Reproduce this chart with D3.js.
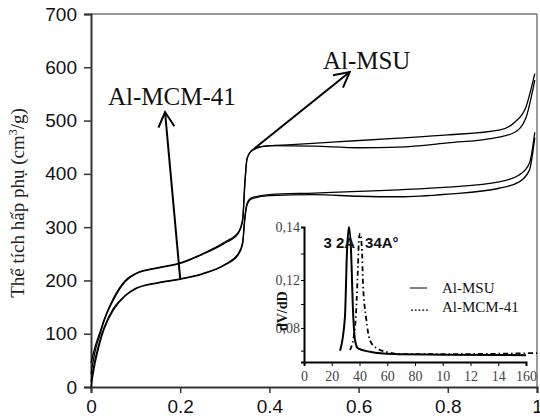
<!DOCTYPE html>
<html>
<head>
<meta charset="utf-8">
<script src="https://cdn.jsdelivr.net/npm/d3@7"></script>
<style>
  body { margin: 0; background: #fff; }
</style>
</head>
<body>
<div id="chart"></div>
<script>
// ─── Main isotherm data (P/Po, volume cm3/g) ───
const xTicks = [0, 0.2, 0.4, 0.6, 0.8, 1];
const yTicks = [0, 100, 200, 300, 400, 500, 600, 700];

const msuA = [[0, 45], [0.01, 78], [0.02, 103], [0.03, 128], [0.05, 166], [0.077, 200], [0.1, 213],
  [0.15, 224], [0.2, 233], [0.25, 250], [0.3, 272], [0.33, 290], [0.34, 315], [0.345, 385],
  [0.35, 430], [0.36, 444], [0.38, 451], [0.45, 455], [0.55, 460], [0.69, 467], [0.8, 473],
  [0.915, 482], [0.95, 497], [0.975, 525], [0.995, 588]];
const msuB = [[0, 25], [0.01, 70], [0.02, 98], [0.03, 125], [0.05, 163], [0.077, 198], [0.1, 212],
  [0.15, 223], [0.2, 232], [0.25, 249], [0.3, 270], [0.33, 288], [0.34, 312], [0.345, 380],
  [0.35, 428], [0.36, 443], [0.4, 453], [0.5, 452], [0.6, 449], [0.69, 450], [0.8, 458],
  [0.915, 469], [0.95, 478], [0.975, 505], [0.995, 576]];
const mcmA = [[0, 10], [0.01, 55], [0.02, 88], [0.03, 113], [0.05, 147], [0.077, 172], [0.1, 185],
  [0.15, 196], [0.2, 203], [0.25, 213], [0.3, 230], [0.33, 250], [0.34, 272], [0.345, 320],
  [0.35, 345], [0.36, 355], [0.4, 361], [0.5, 364], [0.6, 367], [0.69, 370], [0.8, 375],
  [0.915, 385], [0.96, 398], [0.983, 420], [0.995, 478]];
const mcmB = [[0, 0], [0.01, 48], [0.02, 83], [0.03, 110], [0.05, 144], [0.077, 171], [0.1, 184],
  [0.15, 195], [0.2, 202], [0.25, 212], [0.3, 229], [0.33, 248], [0.34, 268], [0.345, 315],
  [0.35, 342], [0.36, 353], [0.4, 359], [0.5, 361], [0.6, 358], [0.69, 357], [0.8, 362],
  [0.915, 373], [0.96, 385], [0.983, 407], [0.995, 468]];

// ─── Inset: pore size distribution (A, dV/dD) ───
const insetXTicks = [0, 20, 40, 60, 80, 100, 120, 140, 160];
const insetXLabels = ['0', '20', '40', '60', '80', '10', '12', '14', '160'];
const insetYTicks = [0.06, 0.08, 0.10, 0.12, 0.13, 0.14];
const insetYLabels = [0.08, 0.12, 0.14];

const poreMSU = [[26, 0.060], [29.5, 0.089], [31, 0.131], [32.4, 0.14], [33.9, 0.131], [35.3, 0.095],
  [36.8, 0.069], [38.9, 0.062], [47.6, 0.059], [64, 0.057], [100, 0.0565], [160, 0.056]];
const poreMCM = [[33.2, 0.0606], [36.8, 0.081], [38.9, 0.125], [39.6, 0.1356], [40.4, 0.1375],
  [41.8, 0.131], [42.5, 0.1175], [44.7, 0.089], [47.6, 0.069], [52.6, 0.062], [59.8, 0.0588],
  [69, 0.057], [112, 0.057], [168, 0.0579]];

const W = 540, H = 417;
const sans = "'Liberation Sans', Arial, sans-serif";
const serif = "'Liberation Serif', 'Times New Roman', serif";

const svg = d3.select('#chart').append('svg')
  .attr('width', W).attr('height', H);

const x = d3.scaleLinear().domain([0, 1]).range([91, 537]);
const y = d3.scaleLinear().domain([0, 700]).range([387, 14]);

// arrowhead
svg.append('defs').append('marker')
  .attr('id', 'arr')
  .attr('viewBox', '-18 -10 20 20')
  .attr('refX', 0).attr('refY', 0)
  .attr('markerWidth', 20).attr('markerHeight', 20)
  .attr('markerUnits', 'userSpaceOnUse')
  .attr('orient', 'auto')
  .append('path')
  .attr('d', 'M-15,-8L0,0L-15,8')
  .attr('fill', 'none')
  .attr('stroke', '#000')
  .attr('stroke-width', 2);

// ─── Frame (top / right) ───
svg.append('line').attr('x1', x(0)).attr('x2', x(1)).attr('y1', y(700)).attr('y2', y(700))
  .attr('stroke', '#777').attr('stroke-width', 1.5);
svg.append('line').attr('x1', x(1)).attr('x2', x(1)).attr('y1', y(700)).attr('y2', y(0))
  .attr('stroke', '#777').attr('stroke-width', 1.5);

// ─── Axes ───
const gy = svg.append('g').attr('transform', `translate(${x(0)},0)`)
  .call(d3.axisLeft(y).tickValues(yTicks).tickSize(7).tickPadding(7).tickFormat(d => String(d)));
const gx = svg.append('g').attr('transform', `translate(0,${y(0)})`)
  .call(d3.axisBottom(x).tickValues(xTicks).tickSize(6).tickPadding(7).tickFormat(d => String(d)));
[gx, gy].forEach(g => {
  g.select('.domain').attr('stroke', '#333').attr('stroke-width', 2);
  g.selectAll('.tick line').attr('stroke', '#333').attr('stroke-width', 1.5);
  g.selectAll('text').attr('font-family', sans).attr('font-size', '19px').attr('fill', '#111');
});

// y title
const yt = svg.append('text')
  .attr('transform', `translate(24,203) rotate(-90)`)
  .attr('text-anchor', 'middle')
  .attr('font-family', serif).attr('font-size', '19px').attr('fill', '#222');
yt.append('tspan').text('Thể tích hấp phụ (cm');
yt.append('tspan').attr('dy', -7).attr('font-size', '12px').text('3');
yt.append('tspan').attr('dy', 7).text('/g)');

// ─── Isotherm lines ───
const line = d3.line().x(d => x(d[0])).y(d => y(d[1])).curve(d3.curveMonotoneX);
[msuA, msuB, mcmA, mcmB].forEach(s => {
  svg.append('path').attr('d', line(s))
    .attr('fill', 'none').attr('stroke', '#000').attr('stroke-width', 1.3);
});

// ─── Annotations ───
const annotations = [
  { label: 'Al-MCM-41', from: [0.2, 203], to: [0.166, 516], tx: 0.038, ty: 530 },
  { label: 'Al-MSU', from: [0.367, 448], to: [0.58, 591], tx: 0.52, ty: 597 },
];
annotations.forEach(a => {
  svg.append('line')
    .attr('x1', x(a.from[0])).attr('y1', y(a.from[1]))
    .attr('x2', x(a.to[0])).attr('y2', y(a.to[1]))
    .attr('stroke', '#000').attr('stroke-width', 2)
    .attr('marker-end', 'url(#arr)');
  svg.append('text')
    .attr('x', x(a.tx)).attr('y', y(a.ty))
    .attr('font-family', serif).attr('font-size', '25px').attr('fill', '#111')
    .text(a.label);
});

// ─── Inset ───
const ix = d3.scaleLinear().domain([0, 160]).range([304, 526]);
const iy = d3.scaleLinear().domain([0.05, 0.08, 0.12, 0.14]).range([362, 328, 280, 227]);

svg.append('clipPath').attr('id', 'stub').append('rect')
  .attr('x', 270).attr('y', 362).attr('width', 40).attr('height', 10);
svg.append('text')
  .attr('x', 302).attr('y', 384).attr('text-anchor', 'end')
  .attr('clip-path', 'url(#stub)')
  .attr('font-family', serif).attr('font-size', '14px').attr('fill', '#444')
  .text('0,04');

const fmtComma = d => d3.format('.2f')(d).replace('.', ',');
const giy = svg.append('g').attr('transform', `translate(${ix(0)},0)`)
  .call(d3.axisLeft(iy).tickValues(insetYTicks).tickSize(3).tickPadding(1)
    .tickFormat(d => insetYLabels.some(v => Math.abs(v - d) < 1e-9) ? fmtComma(d) : ''));
const gix = svg.append('g').attr('transform', `translate(0,${iy(0.05)})`)
  .call(d3.axisBottom(ix).tickValues(insetXTicks).tickSize(4).tickPadding(5)
    .tickFormat((d, i) => insetXLabels[i]));
[giy, gix].forEach(g => {
  g.select('.domain').attr('stroke', '#000').attr('stroke-width', 2);
  g.selectAll('.tick line').attr('stroke', '#000').attr('stroke-width', 1);
  g.selectAll('text').attr('font-family', serif).attr('font-size', '14px').attr('fill', '#444');
});

// inset y title
svg.append('text')
  .attr('transform', `translate(${ix(-12)},${iy(0.094)}) rotate(-90)`)
  .attr('text-anchor', 'middle')
  .attr('font-family', serif).attr('font-size', '14px').attr('font-weight', 'bold').attr('fill', '#111')
  .text('dV/dD');

const iline = d3.line().x(d => ix(d[0])).y(d => iy(d[1])).curve(d3.curveMonotoneX);
svg.append('path').attr('d', iline(poreMSU))
  .attr('fill', 'none').attr('stroke', '#000').attr('stroke-width', 2);
svg.append('path').attr('d', iline(poreMCM))
  .attr('fill', 'none').attr('stroke', '#000').attr('stroke-width', 1.8)
  .attr('stroke-dasharray', '5,3,1.5,3');

// peak labels
svg.append('text').attr('x', ix(14)).attr('y', iy(0.132))
  .attr('font-family', sans).attr('font-weight', 'bold').attr('font-size', '15px').attr('fill', '#111')
  .text('3 2A');
svg.append('text').attr('x', ix(44)).attr('y', iy(0.132))
  .attr('font-family', sans).attr('font-weight', 'bold').attr('font-size', '15px').attr('fill', '#111')
  .text('34A°');

// legend
const legend = [
  { label: 'Al-MSU', style: 'solid' },
  { label: 'Al-MCM-41', style: 'dots' },
];
legend.forEach((l, i) => {
  const ly = 288 + i * 19;
  if (l.style === 'solid') {
    svg.append('line').attr('x1', 410).attr('x2', 427).attr('y1', ly).attr('y2', ly)
      .attr('stroke', '#000').attr('stroke-width', 1);
  } else {
    svg.append('text').attr('x', 410).attr('y', ly + 4)
      .attr('font-family', serif).attr('font-size', '15px').attr('fill', '#111').text('.....');
  }
  svg.append('text').attr('x', 442).attr('y', ly + 5)
    .attr('font-family', serif).attr('font-size', '15px').attr('fill', '#111').text(l.label);
});
</script>
</body>
</html>
